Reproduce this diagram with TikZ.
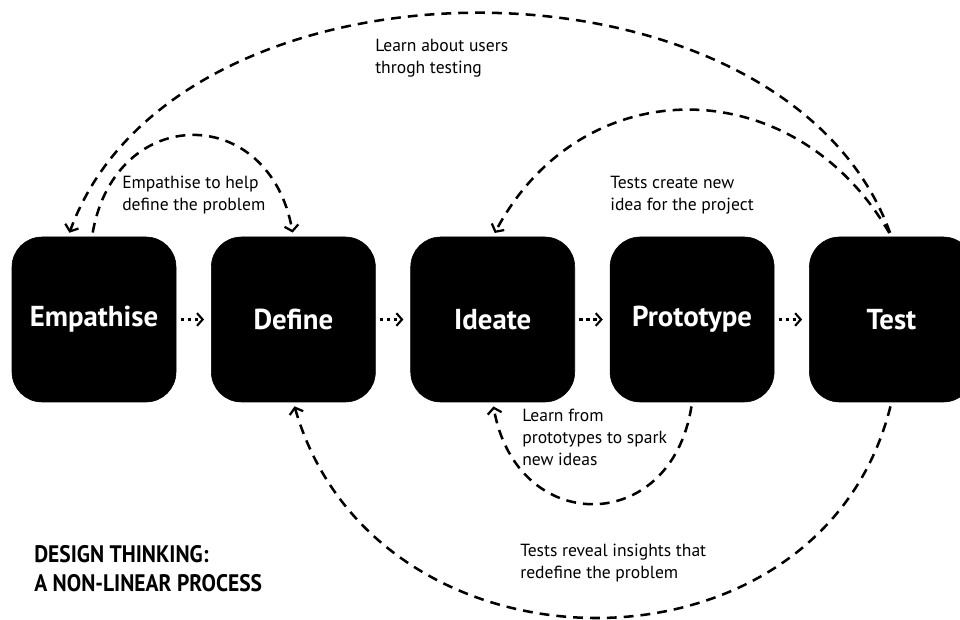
\documentclass[tikz,border=0pt]{standalone}
\usepackage{fontspec}
\setmainfont{PT Sans}
\newfontfamily\titlefont[FakeStretch=0.9]{PT Sans}
\usetikzlibrary{positioning,arrows.meta}

\begin{document}
\begin{tikzpicture}[
  stage/.style={draw=black, fill=black, rounded corners=0.75cm, minimum width=4.1cm, minimum height=4.125cm, text=white, font=\fontsize{20.5}{24}\selectfont\bfseries},
  loop/.style={line width=1.8pt, dash pattern=on 7pt off 5pt, shorten <=3pt, shorten >=3pt, -{Straight Barb[length=4pt,width=10pt,line width=1.6pt]}},
  nextstep/.style={line width=1.6pt, dash pattern=on 2.5pt off 2.5pt, shorten <=3pt, shorten >=5pt, -{Straight Barb[length=4pt,width=9pt,line width=1.5pt]}},
  note/.style={anchor=north west, align=left, inner sep=0pt, font=\fontsize{12.5}{15.6}\selectfont}
]
\useasboundingbox (0,0) rectangle (24,15.475);

% the five stages
\node[stage] (emp) at (2.35,7.4875) {Empathise};
\node[stage, right=0.87cm of emp] (def) {Define};
\node[stage, right=0.87cm of def] (idea) {Ideate};
\node[stage, right=0.87cm of idea] (proto) {Prototype};
\node[stage, right=0.87cm of proto] (test) {Test};

% straight steps
\draw[nextstep] (emp) -- (def);
\draw[nextstep] (def) -- (idea);
\draw[nextstep] (idea) -- (proto);
\draw[nextstep] (proto) -- (test);

% loops above
\draw[loop] ([xshift=-0.05cm]emp.north) .. controls +(80:3.4) and +(100:3.4) .. (def.north);
\draw[loop] (test.north) .. controls +(110:7.9) and +(70:7.9) .. ([xshift=-0.65cm]emp.north);
\draw[loop] (test.north) .. controls +(120:4.8) and +(62:4.8) .. (idea.north);

% loops below
\draw[loop] (proto.south) .. controls +(-99:3.4) and +(-80:3.4) .. (idea.south);
\draw[loop] (test.south) .. controls +(-104:7.4) and +(-74:7.4) .. (def.south);

% notes
\node[note] (n1) at (3.05,11.075) {Empathise to help\\define the problem};
\node[note] (n2) at (9.375,14.5) {Learn about users\\throgh testing};
\node[note] (n3) at (15.25,11.075) {Tests create new\\idea for the project};
\node[note] (n4) at (13.05,5.25) {Learn from\\prototypes to spark\\new ideas};
\node[note] (n5) at (13.0,1.875) {Tests reveal insights that\\redefine the problem};

% title
\node[anchor=north west, inner sep=0pt, align=left, font=\titlefont\bfseries\fontsize{17}{20.6}\selectfont] (title) at (0.85,1.85) {DESIGN THINKING:\\A NON-LINEAR PROCESS};
\end{tikzpicture}
\end{document}
